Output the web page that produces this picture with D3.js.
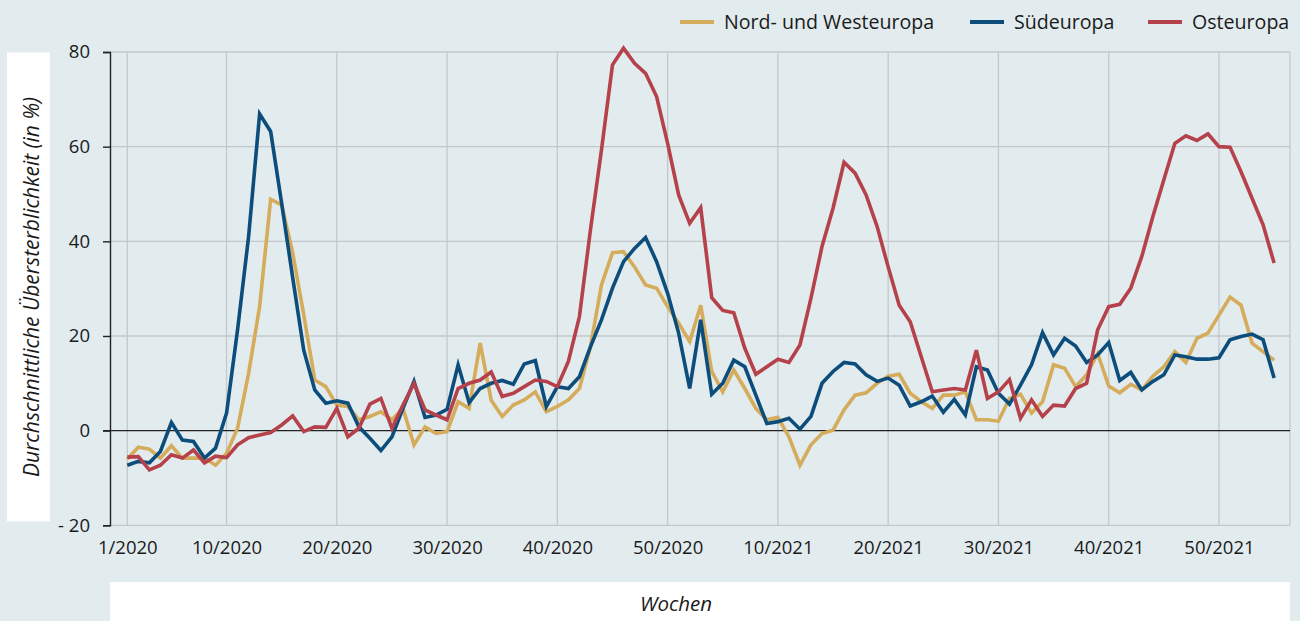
<!DOCTYPE html>
<html><head><meta charset="utf-8">
<script src="https://cdn.jsdelivr.net/npm/d3@7"></script>
<style>
html,body{margin:0;padding:0;background:#e2ebee;}
svg{display:block;}
text{font-family:"Open Sans",sans-serif;fill:#1a1a1a;}
</style></head><body>
<svg id="c" width="1300" height="621"></svg>
<script>
// Week index 0..104 (1/2020 … end of 2021)
const tickIndex = [0, 9, 19, 29, 39, 49, 59, 69, 79, 89, 99];
const tickLabels = ["1/2020","10/2020","20/2020","30/2020","40/2020","50/2020","10/2021","20/2021","30/2021","40/2021","50/2021"];
const yTicks = [-20, 0, 20, 40, 60, 80];
const seriesNames = ["Nord- und Westeuropa", "Südeuropa", "Osteuropa"];

const nordWest = [
 -6.0,-3.5,-3.9,-5.8,-3.2,-5.8,-5.8,-5.8,-7.3,-4.8,
  0.5,12.1,26.2,48.9,47.7,37.5,24.5,10.7, 9.3, 5.4,
  5.1, 2.3, 3.0, 4.0, 2.3, 4.7,-3.0, 0.8,-0.6,-0.2,
  6.1, 4.7,18.5, 6.4, 3.0, 5.4, 6.5, 8.2, 4.0, 5.1,
  6.5, 8.9,17.7,30.8,37.6,37.8,34.6,30.8,30.1,26.2,
 22.7,18.8,26.5,12.5, 8.2,12.8, 8.9, 4.7, 2.3, 2.8,
 -1.3,-7.3,-3.0,-0.6, 0.1, 4.4, 7.5, 8.0,10.0,11.5,
 11.9, 7.9, 6.1, 4.7, 7.5, 7.5, 8.2, 2.3, 2.3, 2.0,
  6.8, 7.7, 3.7, 6.1,13.9,13.2, 9.3,11.8,16.3, 9.4,
  8.0, 9.8, 8.6,11.5,13.5,16.7,14.4,19.5,20.6,24.4,
 28.2,26.5,18.5,16.7,14.9
];
const sued = [
 -7.3,-6.5,-6.8,-4.4, 1.7,-2.0,-2.3,-5.8,-3.7, 3.7,
 21.3,41.0,66.9,63.2,48.0,32.3,17.0, 8.6, 5.8, 6.3,
  5.8, 0.8,-1.6,-4.2,-1.3, 4.7,10.4, 2.8, 3.3, 4.5,
 13.9, 5.9, 8.9,10.0,10.6, 9.8,14.1,14.8, 5.1, 9.3,
  8.9,11.4,17.7,23.4,30.1,35.7,38.5,40.8,35.7,29.0,
 20.6, 8.9,23.4, 7.7,10.0,14.9,13.5, 7.5, 1.5, 1.9,
  2.6, 0.3, 3.0,10.0,12.5,14.4,14.1,11.8,10.4,11.1,
  9.6, 5.2, 6.1, 7.3, 3.9, 6.6, 3.3,13.5,12.8, 7.9,
  5.6, 9.6,13.9,20.7,16.0,19.5,17.9,14.4,16.0,18.6,
 10.6,12.3, 8.6,10.4,11.8,16.0,15.6,15.1,15.1,15.4,
 19.2,19.9,20.4,19.2,11.1
];
const ost = [
 -5.6,-5.5,-8.3,-7.3,-5.1,-5.8,-4.1,-6.8,-5.4,-5.7,
 -3.0,-1.5,-0.9,-0.4, 1.2, 3.1,-0.2, 0.8, 0.7, 4.7,
 -1.3, 0.5, 5.6, 6.8, 0.5, 5.4,10.0, 4.4, 3.3, 2.3,
  8.9,10.0,10.7,12.4, 7.2, 7.9, 9.3,10.7,10.4, 9.3,
 14.6,24.1,42.4,59.3,77.3,80.8,77.6,75.5,70.6,60.7,
 49.8,43.8,47.1,28.1,25.4,24.9,17.4,11.9,13.5,15.1,
 14.4,18.1,28.0,38.9,47.0,56.7,54.4,49.8,43.1,34.6,
 26.5,23.0,15.6, 8.2, 8.6, 8.9, 8.6,17.0, 6.8, 8.2,
 10.8, 2.6, 6.5, 3.0, 5.4, 5.2, 8.9,10.0,21.3,26.2,
 26.7,30.1,36.8,45.2,53.0,60.7,62.3,61.3,62.7,60.0,
 59.9,54.7,49.1,43.5,35.4
];
const colors = ["#d4ac5c", "#0c4d7c", "#b5414b"];
const allSeries = [nordWest, sued, ost];

const svg = d3.select("#c");
const plotL = 110, plotR = 1290, plotT = 52, plotB = 525.3;

const x = d3.scaleLinear().domain([0, 104]).range([127.3, 127.3 + 104 * 11.027]);
const y = d3.scaleLinear().domain([-20, 80]).range([plotB, plotT]);

// Y axis title box
svg.append("rect").attr("x", 7).attr("y", 52.5).attr("width", 43).attr("height", 469).attr("fill", "#fff");
svg.append("text")
  .attr("transform", `translate(39,${(52.5 + 521.5) / 2}) rotate(-90)`)
  .attr("text-anchor", "middle")
  .style("font-style", "italic").style("font-size", "21px")
  .text("Durchschnittliche Übersterblichkeit (in %)");

// X axis title box
svg.append("rect").attr("x", 110).attr("y", 582).attr("width", 1180).attr("height", 45).attr("fill", "#fff");
svg.append("text").attr("x", 676).attr("y", 611).attr("text-anchor", "middle")
  .style("font-style", "italic").style("font-size", "20.5px").text("Wochen");

// Gridlines
const grid = svg.append("g");
grid.selectAll("line.h").data(yTicks.filter(d => d !== 0)).join("line")
  .attr("x1", plotL).attr("x2", plotR)
  .attr("y1", d => y(d)).attr("y2", d => y(d))
  .attr("stroke", "#c4c8cb").attr("stroke-width", 1.3);
grid.selectAll("line.v").data(tickIndex).join("line")
  .attr("x1", d => x(d)).attr("x2", d => x(d))
  .attr("y1", plotT).attr("y2", plotB)
  .attr("stroke", "#c4c8cb").attr("stroke-width", 1.3);
grid.append("line").attr("x1", plotR).attr("x2", plotR).attr("y1", plotT).attr("y2", plotB)
  .attr("stroke", "#c4c8cb").attr("stroke-width", 1.3);

// zero line
svg.append("line").attr("x1", plotL - 7).attr("x2", plotR)
  .attr("y1", y(0)).attr("y2", y(0)).attr("stroke", "#222").attr("stroke-width", 1.4);

// Y axis
const yAxis = d3.axisLeft(y).tickValues(yTicks).tickSize(7).tickPadding(13)
  .tickFormat(d => d < 0 ? "- " + Math.abs(d) : d);
const ya = svg.append("g").attr("transform", `translate(${plotL},0)`).call(yAxis);
ya.select(".domain").attr("stroke", "#222").attr("stroke-width", 1.4);
ya.selectAll(".tick line").attr("stroke", "#222").attr("stroke-width", 1.4);
ya.selectAll("text").style("font-size", "18.5px").style("font-family", "Open Sans").attr("fill", "#1a1a1a");

// X tick labels
const xAxis = d3.axisBottom(x).tickValues(tickIndex).tickSize(0).tickPadding(16)
  .tickFormat((d, i) => tickLabels[i]);
const xa = svg.append("g").attr("transform", `translate(0,${plotB})`).call(xAxis);
xa.select(".domain").remove();
xa.selectAll("text").style("font-size", "18.5px").style("font-family", "Open Sans").attr("fill", "#1a1a1a");

// Lines
const line = d3.line().x((d, i) => x(i)).y(d => y(d)).curve(d3.curveLinear);
svg.append("g").selectAll("path").data(allSeries).join("path")
  .attr("d", d => line(d))
  .attr("fill", "none")
  .attr("stroke", (d, i) => colors[i])
  .attr("stroke-width", 3.6)
  .attr("stroke-linejoin", "miter");

// Legend
const legendPos = [680, 970, 1148];
const lg = svg.append("g");
seriesNames.forEach((n, i) => {
  lg.append("line").attr("x1", legendPos[i]).attr("x2", legendPos[i] + 34)
    .attr("y1", 22).attr("y2", 22).attr("stroke", colors[i]).attr("stroke-width", 4);
  lg.append("text").attr("x", legendPos[i] + 44).attr("y", 29)
    .style("font-size", "19.6px").text(n);
});
</script>
</body></html>
